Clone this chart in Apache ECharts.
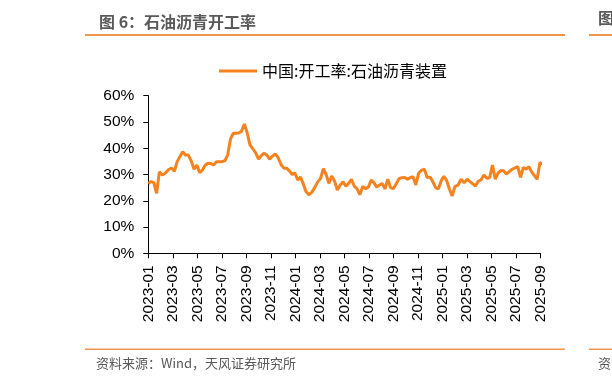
<!DOCTYPE html>
<html><head><meta charset="utf-8">
<script src="https://cdn.jsdelivr.net/npm/echarts@6/dist/echarts.min.js"></script>
<style>html,body{margin:0;padding:0;background:#fff}#c{width:612px;height:384px}</style>
</head><body><div id="c"></div>
<script>
// ---- data ----
const titleText = '图 6：石油沥青开工率';
const sourceText = '资料来源：Wind，天风证券研究所';
const seriesName = '中国:开工率:石油沥青装置';
const startDate = [2023, 0, 1];   // first weekly observation (y, m0, d)
const stepDays = 7;               // weekly data
const axisStart = [2023, 0];      // x axis starts 2023-01
const axisMonths = 32;            // to 2025-09
const monthStep = 2;
const yMin = 0, yMax = 60, yStep = 10;
// weekly operating rate, %
const values = [
  26.6, 27.3, 26.9, 22.8, 31.0, 29.8, 30.5, 31.8, 32.5, 31.2,
  34.9, 36.8, 38.7, 37.4, 37.4, 35.2, 32.0, 33.6, 30.7, 31.7,
  33.5, 34.3, 34.2, 33.6, 34.9, 34.9, 34.9, 35.3, 37.5, 43.5,
  45.7, 45.7, 45.8, 46.5, 49.2, 46.0, 41.3, 39.8, 38.2, 35.9,
  37.2, 38.1, 37.4, 35.8, 37.0, 37.8, 36.4, 33.8, 32.4, 32.4,
  31.4, 30.0, 30.6, 27.9, 29.0, 26.5, 23.5, 22.3, 23.2, 25.0,
  27.2, 28.5, 32.2, 30.0, 26.6, 29.4, 27.5, 24.1, 26.0, 27.2,
  25.6, 26.6, 28.2, 25.6, 24.6, 22.3, 25.4, 24.6, 25.2, 27.9,
  26.9, 25.2, 26.0, 26.6, 24.4, 28.2, 25.0, 24.6, 26.4, 28.4,
  28.8, 28.9, 28.2, 28.8, 29.2, 26.0, 30.5, 31.6, 32.0, 28.9,
  29.0, 27.3, 25.0, 24.5, 27.5, 29.3, 27.7, 24.5, 21.8, 25.5,
  26.0, 28.2, 26.8, 28.2, 27.3, 26.5, 25.6, 27.4, 28.0, 29.8,
  28.6, 28.8, 33.6, 28.2, 30.5, 31.5, 31.4, 30.2, 31.1, 32.0,
  32.5, 33.0, 28.9, 32.7, 32.0, 33.0, 31.0, 29.6, 28.2, 34.5,
  34.0
];

// ---- build ----
const t0 = Date.UTC(startDate[0], startDate[1], startDate[2]);
function monthIndex(ms) {
  const d = new Date(ms);
  const y = d.getUTCFullYear(), m = d.getUTCMonth(), day = d.getUTCDate();
  const dim = new Date(Date.UTC(y, m + 1, 0)).getUTCDate();
  return (y - axisStart[0]) * 12 + (m - axisStart[1]) + (day - 1) / dim;
}
const seriesData = values.map((v, i) => [monthIndex(t0 + i * stepDays * 86400000), v]);

const orange = '#F5821F';
const rule = '#F0954A';
const cjk = '"Noto Sans CJK SC", "Liberation Sans", sans-serif';
const lat = '"Liberation Sans", Arial, sans-serif';

const chart = echarts.init(document.getElementById('c'), null, {renderer: 'canvas'});
chart.setOption({
  animation: false,
  backgroundColor: '#fff',
  title: {
    text: titleText, left: 94, top: 9,
    textStyle: {fontFamily: cjk, fontSize: 16, fontWeight: 'bold', color: '#5a5a5a'}
  },
  legend: {
    data: [seriesName], left: 214, top: 58,
    itemWidth: 38, itemHeight: 14, itemGap: 10,
    icon: 'path://M0,6 L38,6 L38,9 L0,9 Z',
    textStyle: {fontFamily: cjk, fontSize: 16, color: '#000', padding: [0,0,0,0]}
  },
  grid: {left: 148.3, right: 71.7, top: 95.7, bottom: 130.7, containLabel: false},
  xAxis: {
    type: 'value', min: 0, max: axisMonths, interval: monthStep,
    axisLine: {show: true, lineStyle: {color: '#000', width: 1}},
    axisTick: {show: true, length: 5, lineStyle: {color: '#000'}},
    splitLine: {show: false},
    axisLabel: {
      rotate: 90, margin: 12, fontFamily: lat, fontSize: 15.5, color: '#000',
      formatter: v => {
        const y = axisStart[0] + Math.floor((v + axisStart[1]) / 12);
        const m = ((v + axisStart[1]) % 12) + 1;
        return y + '-' + String(m).padStart(2, '0');
      }
    }
  },
  yAxis: {
    type: 'value', min: yMin, max: yMax, interval: yStep,
    axisLine: {show: true, lineStyle: {color: '#000', width: 1}},
    axisTick: {show: true, length: 5, lineStyle: {color: '#000'}},
    splitLine: {show: false},
    axisLabel: {fontFamily: lat, fontSize: 15.5, color: '#000', margin: 14, formatter: '{value}%'}
  },
  series: [{
    name: seriesName, type: 'line', data: seriesData,
    showSymbol: false, symbol: 'none', clip: false,
    lineStyle: {color: orange, width: 3},
    itemStyle: {color: orange}
  }],
  graphic: [
    {type: 'rect', shape: {x: 85, y: 34, width: 480, height: 2}, style: {fill: rule}},
    {type: 'rect', shape: {x: 589, y: 34, width: 30, height: 2}, style: {fill: rule}},
    {type: 'rect', shape: {x: 85, y: 348.5, width: 480, height: 1.5}, style: {fill: rule}},
    {type: 'rect', shape: {x: 589, y: 348.5, width: 30, height: 1.5}, style: {fill: rule}},
    {type: 'text', left: 96, top: 357, style: {text: sourceText, font: '13px ' + cjk, fill: '#595959'}},
    {type: 'text', x: 598, y: 10, style: {text: '图', font: 'bold 16px ' + cjk, fill: '#5a5a5a'}},
    {type: 'text', x: 598, y: 357, style: {text: '资', font: '13px ' + cjk, fill: '#595959'}}
  ]
});
</script>
</body></html>
